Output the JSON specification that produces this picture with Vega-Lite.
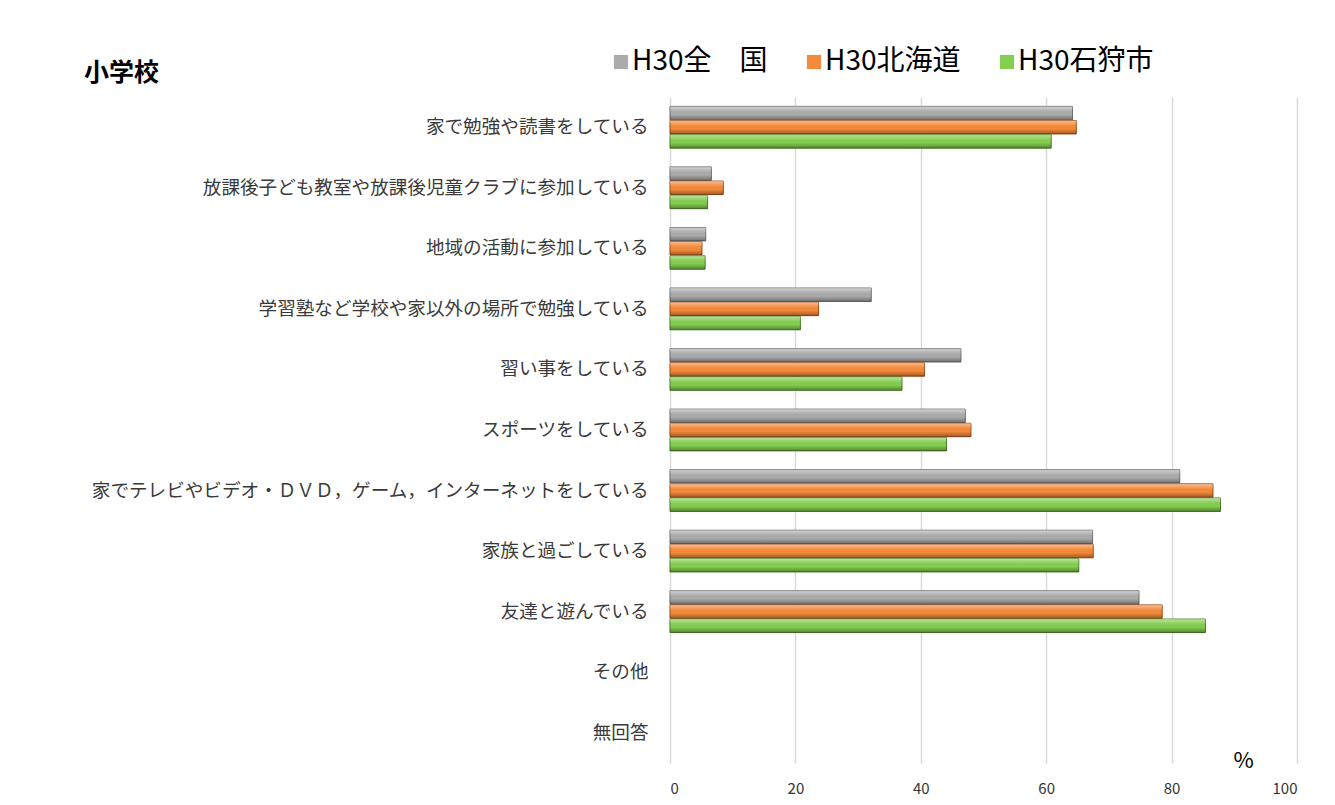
{
  "$schema": "https://vega.github.io/schema/vega-lite/v6.json",
  "width": 627,
  "height": 666,
  "autosize": {"type": "none"},
  "padding": {"left": 670, "top": 97, "right": 38, "bottom": 42},
  "background": "white",
  "config": {"font": "Noto Sans CJK JP", "view": {"stroke": null}},
  "title": {
    "text": "小学校",
    "anchor": "start",
    "frame": "group",
    "orient": "top",
    "dx": -586,
    "dy": 42,
    "fontSize": 25,
    "fontWeight": "bold",
    "color": "#000000"
  },
  "data": {
    "values": [
      {"item": "家で勉強や読書をしている", "series": "H30全　国", "value": 64.2},
      {"item": "家で勉強や読書をしている", "series": "H30北海道", "value": 64.8},
      {"item": "家で勉強や読書をしている", "series": "H30石狩市", "value": 60.8},
      {"item": "放課後子ども教室や放課後児童クラブに参加している", "series": "H30全　国", "value": 6.6},
      {"item": "放課後子ども教室や放課後児童クラブに参加している", "series": "H30北海道", "value": 8.5},
      {"item": "放課後子ども教室や放課後児童クラブに参加している", "series": "H30石狩市", "value": 6.0},
      {"item": "地域の活動に参加している", "series": "H30全　国", "value": 5.7},
      {"item": "地域の活動に参加している", "series": "H30北海道", "value": 5.1},
      {"item": "地域の活動に参加している", "series": "H30石狩市", "value": 5.6},
      {"item": "学習塾など学校や家以外の場所で勉強している", "series": "H30全　国", "value": 32.1},
      {"item": "学習塾など学校や家以外の場所で勉強している", "series": "H30北海道", "value": 23.7},
      {"item": "学習塾など学校や家以外の場所で勉強している", "series": "H30石狩市", "value": 20.8},
      {"item": "習い事をしている", "series": "H30全　国", "value": 46.4},
      {"item": "習い事をしている", "series": "H30北海道", "value": 40.6},
      {"item": "習い事をしている", "series": "H30石狩市", "value": 37.0},
      {"item": "スポーツをしている", "series": "H30全　国", "value": 47.1},
      {"item": "スポーツをしている", "series": "H30北海道", "value": 48.0},
      {"item": "スポーツをしている", "series": "H30石狩市", "value": 44.1},
      {"item": "家でテレビやビデオ・ＤＶＤ，ゲーム，インターネットをしている", "series": "H30全　国", "value": 81.3},
      {"item": "家でテレビやビデオ・ＤＶＤ，ゲーム，インターネットをしている", "series": "H30北海道", "value": 86.6},
      {"item": "家でテレビやビデオ・ＤＶＤ，ゲーム，インターネットをしている", "series": "H30石狩市", "value": 87.8},
      {"item": "家族と過ごしている", "series": "H30全　国", "value": 67.4},
      {"item": "家族と過ごしている", "series": "H30北海道", "value": 67.5},
      {"item": "家族と過ごしている", "series": "H30石狩市", "value": 65.2},
      {"item": "友達と遊んでいる", "series": "H30全　国", "value": 74.8},
      {"item": "友達と遊んでいる", "series": "H30北海道", "value": 78.5},
      {"item": "友達と遊んでいる", "series": "H30石狩市", "value": 85.4}
    ]
  },
  "encoding": {
    "y": {
      "field": "item",
      "type": "nominal",
      "scale": {
        "domain": [
          "家で勉強や読書をしている",
          "放課後子ども教室や放課後児童クラブに参加している",
          "地域の活動に参加している",
          "学習塾など学校や家以外の場所で勉強している",
          "習い事をしている",
          "スポーツをしている",
          "家でテレビやビデオ・ＤＶＤ，ゲーム，インターネットをしている",
          "家族と過ごしている",
          "友達と遊んでいる",
          "その他",
          "無回答"
        ],
        "paddingInner": 0.31,
        "paddingOuter": 0.155
      },
      "axis": {
        "title": null,
        "domain": false,
        "ticks": false,
        "labelPadding": 22,
        "labelFontSize": 18.6,
        "labelColor": "#3A3A3A",
        "labelLimit": 700,
        "grid": false
      }
    },
    "yOffset": {
      "field": "series",
      "type": "nominal",
      "sort": ["H30全　国", "H30北海道", "H30石狩市"],
      "scale": {"paddingInner": 0.05}
    },
    "x": {
      "field": "value",
      "type": "quantitative",
      "scale": {"domain": [0, 100]},
      "axis": {
        "values": [0, 20, 40, 60, 80, 100],
        "domain": false,
        "ticks": false,
        "grid": true,
        "gridColor": "#D9D9D9",
        "gridWidth": 1.5,
        "labelPadding": 18,
        "labelFontSize": 15,
        "labelColor": "#333333",
        "title": "%",
        "titleFontSize": 22,
        "titleFontWeight": "normal",
        "titleColor": "#000000",
        "titleX": 573,
        "titleY": -3,
        "titleAlign": "center",
        "titleBaseline": "middle"
      }
    }
  },
  "layer": [
    {
      "mark": {"type": "bar", "strokeWidth": 1},
      "encoding": {
        "color": {
          "field": "series",
          "type": "nominal",
          "sort": ["H30全　国", "H30北海道", "H30石狩市"],
          "scale": {"domain": ["H30全　国", "H30北海道", "H30石狩市"], "range": ["#ABABAB", "#F58A3A", "#84CE50"]},
          "legend": {
            "title": null,
            "orient": "none",
            "legendX": -63,
            "legendY": -49,
            "direction": "horizontal",
            "symbolType": "square",
            "symbolSize": 200,
            "symbolStrokeWidth": 0,
            "labelFontSize": 28,
            "labelColor": "#000000",
            "labelOffset": -3,
            "columnPadding": 32
          }
        },
        "stroke": {
          "field": "series",
          "type": "nominal",
          "scale": {"domain": ["H30全　国", "H30北海道", "H30石狩市"], "range": ["#6E6E6E", "#9C4E16", "#4A7F28"]},
          "legend": null
        }
      }
    },
    {
      "mark": {
        "type": "bar",
        "fill": {
          "gradient": "linear",
          "x1": 0, "y1": 0, "x2": 0, "y2": 1,
          "stops": [
            {"offset": 0, "color": "rgba(255,255,255,0.45)"},
            {"offset": 0.3, "color": "rgba(255,255,255,0.1)"},
            {"offset": 0.6, "color": "rgba(0,0,0,0.0)"},
            {"offset": 1, "color": "rgba(0,0,0,0.35)"}
          ]
        }
      },
      "encoding": {}
    }
  ]
}
